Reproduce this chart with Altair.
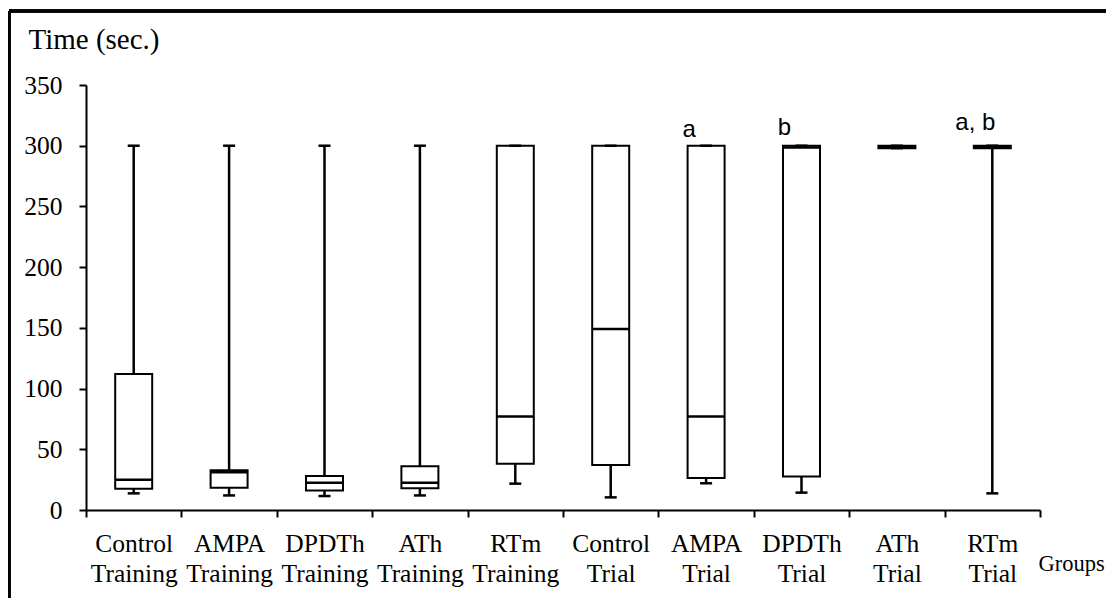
import altair as alt
import pandas as pd

groups = ["Control|Training", "AMPA|Training", "DPDTh|Training", "ATh|Training", "RTm|Training",
          "Control|Trial", "AMPA|Trial", "DPDTh|Trial", "ATh|Trial", "RTm|Trial"]
whisker_min = [13.7, 12, 11.5, 12, 21.7, 10.4, 22, 14.3, 298, 13.7]
q1 = [17.5, 18.4, 16, 18, 38, 37, 26.4, 27.5, 298, 298]
median = [25, 31, 22.5, 22.5, 77, 149, 77, 298.5, 299, 299]
q3 = [112, 32.7, 28, 36, 300, 300, 300, 300, 300, 300]
whisker_max = [300, 300, 300, 300, 300, 300, 300, 300, 300, 300]

sig_groups = ["AMPA|Trial", "DPDTh|Trial", "RTm|Trial"]
sig_labels = ["a", "b", "a, b"]
sig_value = [300, 300, 300]

y_ticks = [0, 50, 100, 150, 200, 250, 300, 350]

df = pd.DataFrame({"group": groups, "lo": whisker_min, "q1": q1, "med": median,
                   "q3": q3, "hi": whisker_max})
sig = pd.DataFrame({"group": sig_groups, "label": sig_labels, "v": sig_value})

SERIF = "Liberation Serif"
FS = 25.5

x = alt.X("group:N", sort=groups, scale=alt.Scale(paddingInner=0, paddingOuter=0),
          axis=alt.Axis(title="Groups", labelExpr="split(datum.label, '|')", labelAngle=0,
                        tickBand="extent", tickSize=7, tickWidth=2, domainWidth=2,
                        domainColor="black", tickColor="black", labelColor="black",
                        labelFont=SERIF, labelFontSize=FS, labelLineHeight=30, labelPadding=14,
                        titleFont=SERIF, titleFontSize=22.5, titleFontWeight="normal",
                        titleColor="black", titleX=952, titleY=60, titleAlign="left",
                        titleBaseline="alphabetic", titleAnchor="start"))
yscale = alt.Scale(domain=[0, 350], nice=False)
yaxis = alt.Axis(title="Time (sec.)", values=y_ticks, grid=False, tickSize=7, tickWidth=2,
                 domainWidth=2, domainColor="black", tickColor="black", labelColor="black",
                 labelFont=SERIF, labelFontSize=FS, labelPadding=17,
                 titleFont=SERIF, titleFontSize=29, titleFontWeight="normal", titleColor="black",
                 titleAngle=0, titleX=-58, titleY=-37, titleAlign="left",
                 titleBaseline="alphabetic")

base = alt.Chart(df)
whisk = base.mark_rule(color="black", strokeWidth=2.5).encode(
    x=x, y=alt.Y("lo:Q", scale=yscale, axis=yaxis), y2="hi:Q")
box = base.mark_bar(fill="white", stroke="black", strokeWidth=2, size=37).encode(
    x=x, y=alt.Y("q1:Q", scale=yscale), y2="q3:Q")
med = base.mark_tick(color="black", size=37, thickness=2.5, opacity=1).encode(
    x=x, y=alt.Y("med:Q", scale=yscale))
cap_lo = base.mark_tick(color="black", size=12, thickness=2.5, opacity=1).encode(
    x=x, y=alt.Y("lo:Q", scale=yscale))
cap_hi = base.mark_tick(color="black", size=12, thickness=2.5, opacity=1).encode(
    x=x, y=alt.Y("hi:Q", scale=yscale))

layers = [whisk, box, med, cap_lo, cap_hi]
for i, d in enumerate([-9, -11, -16]):
    layers.append(
        alt.Chart(sig.iloc[[i]]).mark_text(font="Liberation Sans", fontSize=24, color="black",
                                           align="center", baseline="alphabetic", dx=-17, dy=d)
        .encode(x=x, y=alt.Y("v:Q", scale=yscale), text="label:N"))

# figure frame (top and left edges visible in the cropped original)
frame_top = alt.Chart(df).mark_rule(color="black", strokeWidth=2.5).encode(
    x=alt.value(-77), x2=alt.value(1020), y=alt.value(-74))
frame_left = alt.Chart(df).mark_rule(color="black", strokeWidth=2.5).encode(
    x=alt.value(-77), y=alt.value(-74), y2=alt.value(515))
layers += [frame_top, frame_left]

chart = alt.layer(*layers).properties(
    width=954, height=425,
    autosize=alt.AutoSizeParams(type="none"),
    padding={"left": 78, "top": 77, "right": 66, "bottom": 88},
).configure(background="white", view=alt.ViewConfig(stroke=None))

chart.save("out.html", embed_options={"renderer": "svg", "actions": False})
